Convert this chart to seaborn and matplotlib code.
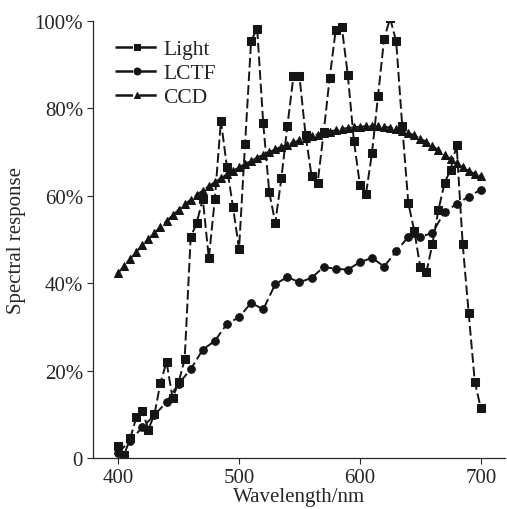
import matplotlib
matplotlib.use("Agg")
import matplotlib.pyplot as plt
import seaborn as sns

# wavelengths (nm)
wl_fine = list(range(400, 701, 5))
wl_coarse = list(range(400, 701, 10))

# spectral responses (%)
light = [2.8, 0.8, 4.5, 9.3, 10.8, 6.5, 10.0, 17.2, 22.0, 13.7,
         17.3, 22.6, 50.5, 53.8, 59.3, 45.7, 59.3, 77.2, 66.5, 57.4,
         47.8, 71.9, 95.5, 98.2, 76.6, 60.8, 53.8, 64.0, 76.0, 87.3,
         87.3, 74.0, 64.5, 62.9, 74.5, 87.0, 98.0, 98.6, 87.6, 72.6,
         62.5, 60.4, 69.8, 82.9, 95.9, 100.6, 95.3, 76.0, 58.4, 51.9,
         43.6, 42.5, 49.0, 56.8, 62.9, 66.0, 71.6, 49.0, 33.1, 17.5,
         11.4]
lctf = [1.2, 4.0, 7.0, 9.8, 12.8, 17.0, 20.3, 24.8, 26.8, 30.7,
        32.2, 35.5, 34.0, 39.8, 41.4, 40.2, 41.2, 43.7, 43.3, 43.1,
        44.8, 45.8, 43.8, 47.3, 50.6, 50.6, 51.5, 56.3, 58.1, 59.8,
        61.4]
ccd = [42.3, 44.0, 45.6, 47.2, 48.7, 50.1, 51.5, 52.9, 54.2, 55.5,
       56.8, 58.0, 59.1, 60.2, 61.2, 62.2, 63.1, 64.0, 64.9, 65.7,
       66.5, 67.3, 68.0, 68.7, 69.4, 70.0, 70.6, 71.2, 71.7, 72.2,
       72.7, 73.2, 73.6, 74.0, 74.4, 74.7, 75.0, 75.3, 75.5, 75.7,
       75.8, 75.9, 75.9, 75.9, 75.8, 75.6, 75.3, 74.9, 74.4, 73.8,
       73.1, 72.3, 71.4, 70.4, 69.4, 68.4, 67.4, 66.5, 65.7, 65.0,
       64.5]

yticks = [0, 20, 40, 60, 80, 100]
ytick_labels = ["0", "20%", "40%", "60%", "80%", "100%"]

sns.set_style("ticks")
plt.rcParams['font.family'] = ['Liberation Serif', 'DejaVu Serif']
FS = 15
FS_LEG = 15.5

fig = plt.figure(figsize=(5.07, 5.10), dpi=100)
ax = fig.add_axes([0.183, 0.100, 0.813, 0.857])

common = dict(color='#151515', linestyle=(0, (5, 2)), linewidth=1.4, markersize=5.5,
              markeredgecolor='#151515', ax=ax)
sns.lineplot(x=wl_fine, y=light, marker='s', label='Light', **common)
sns.lineplot(x=wl_coarse, y=lctf, marker='o', label='LCTF', **common)
sns.lineplot(x=wl_fine, y=ccd, marker='^', label='CCD', **common)

ax.set_xlim(379, 720)
ax.set_ylim(0, 100)
ax.set_xticks([400, 500, 600, 700])
ax.set_yticks(yticks)
ax.set_yticklabels(ytick_labels)
ax.tick_params(axis='both', labelsize=FS, direction='out', length=4, width=0.8, pad=3)
ax.set_xlabel('Wavelength/nm', fontsize=FS, labelpad=0)
ax.set_ylabel('Spectral response', fontsize=FS, labelpad=6)
sns.despine(ax=ax)
for s in ['left', 'bottom']:
    ax.spines[s].set_linewidth(0.9)

leg = ax.legend(loc='upper left', bbox_to_anchor=(0.032, 0.978), frameon=False,
                fontsize=FS_LEG, handlelength=2.1, handletextpad=0.15,
                labelspacing=0.18, numpoints=1, borderaxespad=0.0)
for h in leg.get_lines():
    h.set_linestyle((0, (7, 2.5)))
    h.set_linewidth(1.8)
    h.set_markersize(5)

fig.savefig('out.png', dpi=100)
